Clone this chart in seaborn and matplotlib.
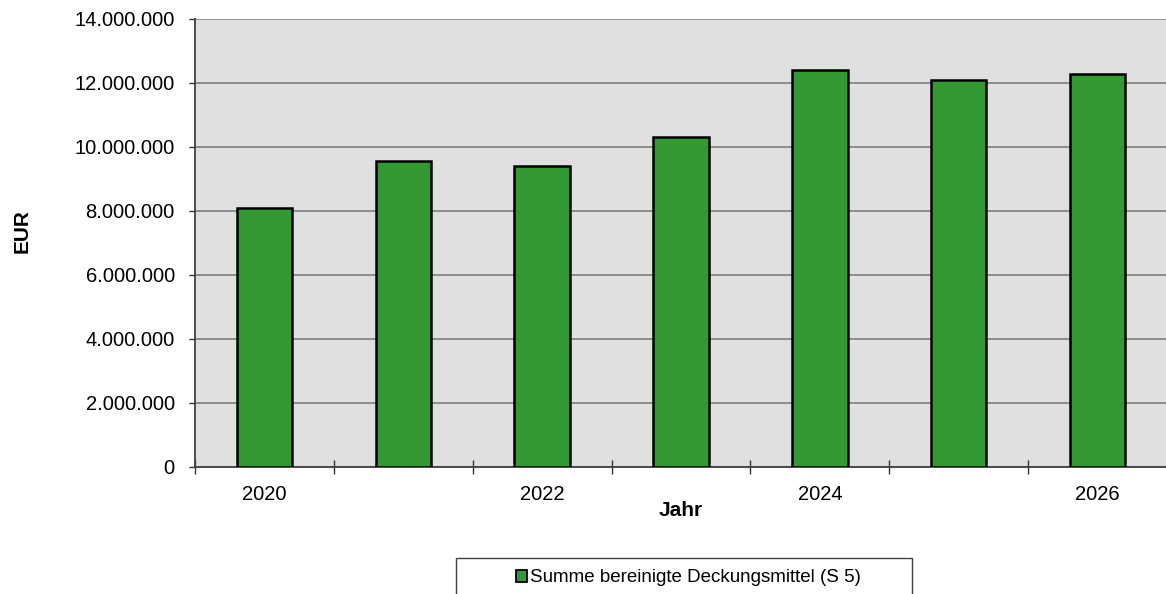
import matplotlib
matplotlib.use("Agg")
import matplotlib.pyplot as plt
from matplotlib.patches import Patch, Rectangle
from matplotlib.ticker import FuncFormatter, FixedLocator
import numpy as np
import pandas as pd
import seaborn as sns

# Data
years = ["2020", "2021", "2022", "2023", "2024", "2025", "2026"]
deckungsmittel = [8080000, 9550000, 9400000, 10300000, 12400000, 12090000, 12280000]
tick_labels = ["2020", "", "2022", "", "2024", "", "2026"]
series_name = "Summe bereinigte Deckungsmittel (S 5)"

sns.set_style("white")
plt.rcParams["font.family"] = ["Liberation Sans", "DejaVu Sans"]
plt.rcParams["text.color"] = "black"
plt.rcParams["axes.labelcolor"] = "black"
plt.rcParams["xtick.color"] = "black"
plt.rcParams["ytick.color"] = "black"

df = pd.DataFrame({"Jahr": years, "EUR": deckungsmittel})

fig = plt.figure(figsize=(11.66, 5.94), dpi=100)
W, H = 1166, 594
ax = fig.add_axes([195 / W, (H - 466.7) / H, 972 / W, 447.7 / H])
ax.set_facecolor("#E0E0E0")

green = "#339933"
sns.barplot(data=df, x="Jahr", y="EUR", color=green, width=0.4,
            edgecolor="black", linewidth=1.8, saturation=1, ax=ax, zorder=3)

ax.set_xlim(-0.5, 6.5)
ax.set_ylim(0, 14000000)
ax.set_yticks(np.arange(0, 14000001, 2000000))
ax.yaxis.set_major_formatter(FuncFormatter(lambda v, p: f"{int(v):,}".replace(",", ".")))
ax.grid(axis="y", color="#7F7F7F", linewidth=1.2, zorder=1)
ax.grid(axis="x", visible=False)
ax.set_axisbelow(True)

# x axis: labels at category centres, tick marks between categories
ax.set_xticks(range(len(years)))
ax.set_xticklabels(tick_labels)
ax.xaxis.set_minor_locator(FixedLocator(np.arange(-0.5, 6.0, 1.0)))
ax.tick_params(axis="x", which="major", length=0, pad=13.5, labelsize=14.5,
               labelcolor="black")
ax.tick_params(axis="x", which="minor", length=9.5, width=1.0, direction="inout",
               color="#333333", bottom=True)
ax.tick_params(axis="y", which="major", length=4.5, width=1.0, direction="out",
               pad=10, labelsize=14.5, color="#333333", labelcolor="black", left=True)

for side in ["top", "right"]:
    ax.spines[side].set_visible(False)
ax.spines["left"].set_color("#404040")
ax.spines["left"].set_linewidth(1.3)
ax.spines["bottom"].set_color("#404040")
ax.spines["bottom"].set_linewidth(1.3)

ax.set_xlabel("Jahr", fontsize=15, fontweight="bold", color="black")
ax.set_ylabel("EUR", fontsize=15, fontweight="bold", color="black")
ax.xaxis.set_label_coords(0.5, -0.076)
ax.yaxis.set_label_coords(-0.168, 0.526)

# legend with a wide frame drawn separately
fig.patches.append(Rectangle((456 / W, -0.05), 456 / W, 0.05 + (H - 558) / H,
                             transform=fig.transFigure, facecolor="white",
                             edgecolor="#404040", linewidth=1.0))
handle = Patch(facecolor=green, edgecolor="black", linewidth=1.3)
fig.legend(handles=[handle], labels=[series_name], loc="center",
           bbox_to_anchor=(688 / W, 1 - 578 / H), frameon=False, fontsize=13.5,
           handlelength=0.6, handleheight=0.6, handletextpad=0.15,
           labelcolor="black")

fig.savefig("out.png", dpi=100)
